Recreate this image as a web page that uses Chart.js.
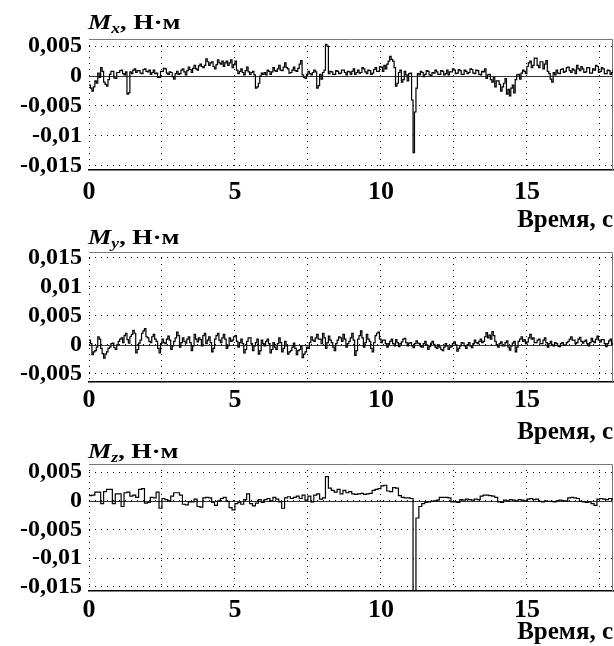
<!DOCTYPE html>
<html lang="ru">
<head>
    <meta charset="UTF-8">
    <title>Mx My Mz</title>
    <script src="https://cdn.jsdelivr.net/npm/chart.js"></script>
    <style>
        body { margin: 0; background: #fff; width: 614px; height: 646px; position: relative; overflow: hidden; }
        .panel { position: absolute; left: 0; width: 614px; }
        .ttl {
            position: absolute; left: 88px; white-space: nowrap;
            font: bold 21px 'Liberation Serif', 'Times New Roman', serif; line-height: 21px;
            transform: scaleX(1.25); transform-origin: 0 0; color: #000;
        }
        .ttl sub { font-size: 14px; font-style: italic; vertical-align: -4px; line-height: 0; }
    </style>
</head>
<body>
    <div class="panel" id="p1" style="top:0;height:233px"><canvas id="c1"></canvas></div>
    <div class="panel" id="p2" style="top:233px;height:212px"><canvas id="c2"></canvas></div>
    <div class="panel" id="p3" style="top:445px;height:200px"><canvas id="c3"></canvas></div>
    <div class="ttl" style="top:12px"><i>M</i><sub>x</sub>, Н·м</div>
    <div class="ttl" style="top:227px"><i>M</i><sub>y</sub>, Н·м</div>
    <div class="ttl" style="top:441px"><i>M</i><sub>z</sub>, Н·м</div>

    <script>
        // sample steps of the recordings, s
        const mxStep = 0.05;
        const myStep = 0.05;
        const mzStep = 0.1;

        // torques, units of 1e-4 N·m
        const mx = [
            -15, -20, -25, -18, -8, -12, 5, -2, 14, 8,
            -10, -14, -17, -6, 3, 8, 8, -3, -4, 6,
            6, 9, 10, 4, 2, 7, -30, -28, 7, 4,
            10, 12, 6, 9, 9, 5, 4, 11, 12, 8,
            7, 10, 3, 6, 10, 4, 5, -2, -2, 8,
            8, 13, 12, 5, 3, 7, 6, -1, -5, 4,
            8, 3, 4, 10, 12, 7, 2, 9, 15, 11,
            6, 13, 18, 12, 10, 17, 20, 16, 14, 18,
            29, 24, 18, 22, 24, 16, 12, 19, 27, 22,
            20, 25, 16, 22, 25, 18, 22, 27, 14, 19,
            25, 10, 4, 8, 12, 6, 2, 9, 15, 7,
            3, 6, 8, 2, -20, -18, -12, 0, 5, 3,
            6, 2, 10, 8, 3, 7, 14, 9, 8, 12,
            18, 10, 9, 15, 22, 14, 12, 5, 6, 10,
            15, 9, 8, 13, 20, 26, 2, -2, -4, 3,
            8, 4, 2, 6, 10, 7, -20, -16, 3, -5,
            6, 10, 53, 50, 4, 8, 7, 3, 3, 9,
            8, 4, 5, 10, 10, 6, 2, 8, 7, 3,
            8, 12, 3, 6, 10, 5, 6, 14, 12, 7,
            4, 10, 9, 3, 5, 11, 14, 8, 8, 16,
            15, 8, 18, 12, 20, 25, 33, 28, 25, 14,
            -17, -12, 6, 10, -10, -6, 8, 2, -8, 4,
            5, -40, -128, -60, -20, 4, 2, 8, 6, -1,
            3, 9, 8, 2, 1, 6, 5, 10, 7, 3,
            3, 9, 8, 2, 4, 10, 2, 7, 7, 12,
            10, 4, 5, 11, 9, 3, 3, 10, 8, 4,
            6, 12, 11, 5, 4, 10, 9, 3, 2, 8,
            7, 12, -4, 2, 3, -6, -10, -2, -18, -8,
            -8, -14, -25, -18, -12, -4, -30, -22, -33, -20,
            -15, -28, -6, 2, 3, -5, 5, 10, 8, 4,
            16, 22, 25, 14, 18, 30, 30, 18, 14, 24,
            24, 12, 20, 26, 8, 4, -5, -10, 6, 2,
            10, 5, 4, 11, 12, 6, 8, 14, 15, 9,
            6, 12, 10, 4, 18, 12, 9, 16, 12, 6,
            7, 14, 14, 5, 5, 12, 10, 18, 16, 6,
            8, 14, 12, 4, 4, 10, 9, 3, 6, 11, 8
        ];
        const my = [
            8, 2, -17, -12, -10, -4, 14, 10, -6, -15,
            -23, -16, -12, -6, -4, 2, 3, -5, -8, 0,
            6, 10, 12, 4, 16, 20, 9, 3, 14, 18,
            25, 20, -14, -8, 3, 8, 20, 24, 28, 14,
            12, 6, 4, 14, 18, 10, 6, -6, -14, 2,
            10, 4, 2, 10, 15, 8, -8, -2, 6, 12,
            22, 16, -4, 4, 12, 6, 3, 10, 14, 4,
            -10, -2, 18, 10, 5, 12, 9, -2, 16, 20,
            2, 8, 14, 4, -12, -6, 10, 16, 20, 8,
            4, 12, 18, 10, -6, -2, 12, 6, 8, 14,
            16, 6, -4, 4, 10, 2, -14, -8, 6, 12,
            12, 2, -10, -2, 4, 10, -16, -10, 8, 2,
            -2, 6, 10, 2, -14, -8, 4, -4, -8, 2,
            12, 4, -12, -6, 6, -2, -16, -12, -10, -4,
            3, -6, -17, -10, -8, -2, -22, -16, -12, -4,
            -6, 4, 14, 8, 6, 12, 18, 10, 10, 2,
            20, 12, -6, 4, 15, 8, 4, -4, -10, 2,
            8, 14, 12, 6, 18, 10, -4, 2, 6, 12,
            20, 8, -18, -10, 10, 16, 24, 12, -4, 4,
            18, 10, 6, -6, -12, 4, 16, 20, 22, 10,
            4, 8, 8, 2, -4, 2, 6, 10, 2, -2,
            9, 4, -3, 2, 5, 10, 11, 4, -2, 3,
            4, -2, -5, 2, 7, 3, 2, -3, -4, 2,
            6, 0, -8, -3, 3, 6, 1, -4, -6, 0,
            -4, -8, -10, -4, 2, -2, -8, -4, -3, 2,
            5, 0, -11, -6, -2, 4, 3, -2, -6, 0,
            4, -2, -5, 2, 8, 4, 2, 6, 10, 4,
            6, 14, 21, 12, 17, 10, 23, 16, 6, 0,
            -4, 2, 5, -2, -2, 4, 7, -4, -9, -2,
            3, 6, -12, -4, 6, 10, 14, 6, 9, 2,
            5, 12, 18, 10, 12, 4, 4, 8, 10, 2,
            2, 8, 12, 4, -4, 2, 6, 0, -2, 4,
            2, -2, -3, 2, 4, -1, 0, 4, 6, 10,
            14, 8, 8, 2, 4, 10, 13, 6, 3, 6,
            8, 2, -2, 4, 11, 6, 4, 10, 15, 8,
            5, 9, 9, 2, -3, 2, 7, 10, 2, -1, 5
        ];
        const mz = [
            9, 10, 15, 15, -5, 16, 20, 20, -5, 12,
            12, -10, 14, 15, 8, 10, 6, 20, 21, -4,
            -3, 6, 5, 15, -13, 4, 2, 0, 8, 14,
            14, 10, -6, -7, -2, -2, 3, -10, -11, 5,
            6, 5, -3, -8, 0, 4, 6, -1, -12, -16,
            -5, -3, -6, 2, 12, -5, -9, -4, 2, -3,
            2, 4, 0, 6, 3, -2, -13, 5, 7, 4,
            6, 8, 4, 10, 1, 8, -2, 10, 12, 3,
            5, 42, 22, 18, 15, 20, 12, 18, 14, 16,
            12, 11, 12, 13, 11, 12, 13, 18, 20, 21,
            26, 27, 17, 16, 23, 22, 9, 6, 5, 5,
            4, -165, -30, -10, -5, -3, -2, -1, 0, 1,
            6, 6, 6, 5, -2, -2, -3, 2, 1, 3,
            2, 1, 3, 2, 8, 10, 10, 9, 8, 6,
            -2, -3, 1, 0, 2, 1, 0, 2, 1, 0,
            3, 4, 2, 3, -1, -2, 0, -1, -1, -2,
            0, 1, 0, 0, 5, 6, 5, 4, -1, -2,
            -3, -2, -5, -8, 3, 4, 3, 2, 4, 3, 3
        ];

        // axes
        const xTicks = [0, 2.5, 5, 7.5, 10, 12.5, 15, 17.5];
        const xTickLabels = ['0', '', '5', '', '10', '', '15', ''];
        const xTitle = 'Время, с';

        const mxTicks = [50, 0, -50, -100, -150];
        const mxTickLabels = ['0,005', '0', '-0,005', '-0,01', '-0,015'];
        const myTicks = [150, 100, 50, 0, -50];
        const myTickLabels = ['0,015', '0,01', '0,005', '0', '-0,005'];
        const mzTicks = [50, 0, -50, -100, -150];
        const mzTickLabels = ['0,005', '0', '-0,005', '-0,01', '-0,015'];

        const serif = "'Liberation Serif', 'Times New Roman', serif";
        const dotted = [1, 5];

        // top/right frame and the solid zero line
        const framePlugin = {
            id: 'frame',
            beforeDatasetsDraw(chart) {
                const { ctx, chartArea: a, scales: { y } } = chart;
                const y0 = Math.round(y.getPixelForValue(0)) + 0.5;
                ctx.save();
                ctx.lineWidth = 1;
                ctx.strokeStyle = '#333';
                ctx.beginPath();
                ctx.moveTo(a.left, y0);
                ctx.lineTo(a.right, y0);
                ctx.stroke();
                ctx.strokeStyle = '#777';
                ctx.beginPath();
                ctx.moveTo(a.left, a.top + 0.5);
                ctx.lineTo(a.right - 0.5, a.top + 0.5);
                ctx.lineTo(a.right - 0.5, a.bottom);
                ctx.stroke();
                ctx.restore();
            }
        };

        function makePanel(canvasId, values, step, yTicks, yTickLabels, cfg) {
            const points = values.map((v, i) => ({ x: i * step, y: v }));
            new Chart(document.getElementById(canvasId), {
                type: 'line',
                data: {
                    datasets: [{
                        data: points,
                        borderColor: '#000',
                        borderWidth: 1.2,
                        pointRadius: 0,
                        stepped: true,
                        fill: false
                    }]
                },
                options: {
                    responsive: true,
                    maintainAspectRatio: false,
                    animation: false,
                    events: [],
                    layout: { padding: { top: cfg.top, right: 1, left: 0, bottom: 0 } },
                    plugins: { legend: { display: false }, tooltip: { enabled: false } },
                    scales: {
                        x: {
                            type: 'linear',
                            min: 0,
                            max: 17.95,
                            afterBuildTicks: s => { s.ticks = xTicks.map(v => ({ value: v })); },
                            afterFit: s => { s.height = cfg.xHeight; },
                            ticks: {
                                autoSkip: false,
                                maxRotation: 0,
                                padding: cfg.xPad,
                                color: '#000',
                                font: { family: serif, size: 26, weight: 'bold', lineHeight: 1 },
                                callback: (v, i) => xTickLabels[i]
                            },
                            grid: { color: '#000', lineWidth: 1, drawTicks: false },
                            border: { display: true, color: '#000', width: 1.5, dash: dotted },
                            title: {
                                display: true,
                                text: xTitle,
                                align: 'end',
                                color: '#000',
                                padding: 0,
                                font: { family: serif, size: 25, weight: 'bold', lineHeight: 1 }
                            }
                        },
                        y: {
                            min: cfg.yMin,
                            max: cfg.yMax,
                            afterBuildTicks: s => { s.ticks = yTicks.map(v => ({ value: v })); },
                            afterFit: s => { s.width = 89; },
                            ticks: {
                                padding: 7,
                                color: '#000',
                                font: { family: serif, size: 24, weight: 'bold', lineHeight: 1 },
                                callback: (v, i) => yTickLabels[i]
                            },
                            grid: { color: '#000', lineWidth: 1, drawTicks: false },
                            border: { display: false, dash: dotted }
                        }
                    }
                },
                plugins: [framePlugin]
            });
        }

        makePanel('c1', mx, mxStep, mxTicks, mxTickLabels, { top: 39, xHeight: 63, xPad: 9, yMin: -157, yMax: 62 });
        makePanel('c2', my, myStep, myTicks, myTickLabels, { top: 18, xHeight: 63, xPad: 5, yMin: -64, yMax: 160 });
        makePanel('c3', mz, mzStep, mzTicks, mzTickLabels, { top: 14, xHeight: 54, xPad: 6, yMin: -157, yMax: 64 });
    </script>
</body>
</html>
